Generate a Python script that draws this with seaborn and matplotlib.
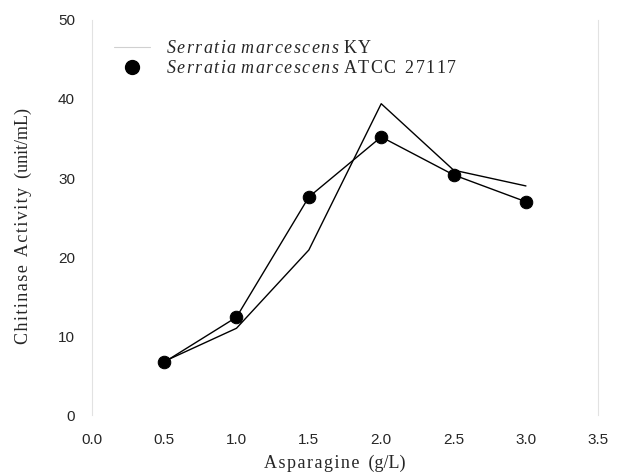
import matplotlib
matplotlib.use("Agg")
import matplotlib.pyplot as plt
from matplotlib.lines import Line2D
import seaborn as sns
import pandas as pd

asparagine = [0.5, 1.0, 1.5, 2.0, 2.5, 3.0]
ky_activity = [6.8, 11.0, 20.9, 39.4, 31.0, 29.0]
atcc_activity = [6.7, 12.4, 27.6, 35.2, 30.4, 27.0]
x_ticks = [0.0, 0.5, 1.0, 1.5, 2.0, 2.5, 3.0, 3.5]
y_ticks = [0, 10, 20, 30, 40, 50]

sns.set_theme(style="white")
plt.rcParams['font.family'] = ['Liberation Sans', 'DejaVu Sans']
plt.rcParams['mathtext.fontset'] = 'custom'
plt.rcParams['mathtext.it'] = 'Liberation Serif:italic'
plt.rcParams['mathtext.rm'] = 'Liberation Serif'

df_ky = pd.DataFrame({"x": asparagine, "y": ky_activity})
df_atcc = pd.DataFrame({"x": asparagine, "y": atcc_activity})

fig = plt.figure(figsize=(6.2, 4.74), dpi=100)
ax = fig.add_axes([0.148, 0.124, 0.817, 0.834])

sns.lineplot(data=df_ky, x="x", y="y", ax=ax, color="black", linewidth=1.0,
             estimator=None, sort=False)
sns.lineplot(data=df_atcc, x="x", y="y", ax=ax, color="black", linewidth=1.0,
             marker="o", markersize=9, markeredgecolor="black",
             markerfacecolor="black", estimator=None, sort=False)

ax.set_xlim(0, 3.5)
ax.set_ylim(0, 50)
ax.set_xticks(x_ticks)
ax.set_xticklabels([f"{v:.1f}" for v in x_ticks], fontsize=11)
ax.set_yticks(y_ticks)
ax.set_yticklabels([str(v) for v in y_ticks], fontsize=11)
ax.tick_params(axis="x", length=0, pad=13)
ax.tick_params(axis="y", length=0, pad=12)

for s in ax.spines.values():
    s.set_color("#e2e2e2")
    s.set_linewidth(0.8)
ax.spines["top"].set_visible(False)
ax.spines["bottom"].set_visible(False)

def spaced(s):
    return "\u200a".join(s)

ax.set_xlabel(spaced("Asparagine") + "  (g/L)", fontsize=13,
              family=['Liberation Serif', 'DejaVu Serif'], labelpad=8)
ax.xaxis.set_label_coords(0.48, -0.1)
ax.set_ylabel(spaced("Chitinase") + "  " + spaced("Activity") + "  (unit/mL)", fontsize=13,
              family=['Liberation Serif', 'DejaVu Serif'], labelpad=16)
ax.yaxis.set_label_coords(-0.118, 0.478)


def mspaced(word):
    return r"\hspace{0.12}".join(word)


handles = [
    Line2D([], [], color="#d0d0d0", linewidth=0.8),
    Line2D([], [], color="black", linestyle="none", marker="o", markersize=10),
]
species = (r"$\mathit{" + mspaced("Serratia") + r"}\hspace{0.35}\mathit{"
           + mspaced("marcescens") + r"}\hspace{0.35}$")
labels = [species + "K\u200aY", species + "\u200a".join("ATCC") + "  " + "\u200a".join("27117")]
leg = ax.legend(handles, labels,
                loc="upper left", bbox_to_anchor=(0.012, 0.99), frameon=False,
                handlelength=2.0, handletextpad=0.9, labelspacing=0.15,
                prop={"family": ["Liberation Serif", "DejaVu Serif"], "size": 13})

fig.savefig("out.png", dpi=100, facecolor="white")
